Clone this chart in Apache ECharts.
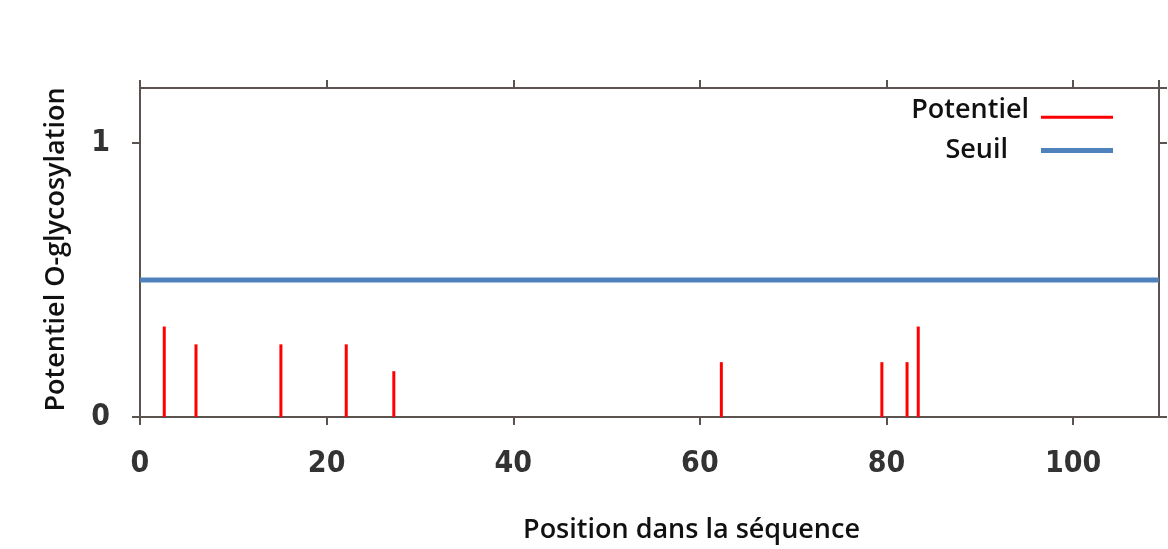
<!DOCTYPE html>
<html>
<head>
<meta charset="utf-8">
<script src="https://cdn.jsdelivr.net/npm/echarts@6/dist/echarts.min.js"></script>
<style>
html,body{margin:0;padding:0;background:#fff;}
#chart{width:1168px;height:549px;}
</style>
</head>
<body>
<div id="chart"></div>
<script>
// Data
const positions = [2.6, 6, 15.1, 22.1, 27.2, 62.3, 79.5, 82.2, 83.4];
const potentials = [0.33, 0.265, 0.265, 0.265, 0.167, 0.2, 0.2, 0.2, 0.33];
const thresholdValue = 0.5;
const xMin = 0, xMax = 109.2, xInterval = 20;
const yMin = 0, yMax = 1.2, yInterval = 1;
const seriesNames = ['Potentiel', 'Seuil'];
const xTitle = 'Position dans la séquence';
const yTitle = 'Potentiel O-glycosylation';

const potentialData = positions.map((p, i) => [p, potentials[i]]);
const thresholdData = [[xMin, thresholdValue], [xMax, thresholdValue]];

const axisColor = '#5a5350';
const labelFont = "'DejaVu Sans Condensed', 'DejaVu Sans', sans-serif";
const titleFont = "'Open Sans', 'Noto Sans', sans-serif";
// legend line drawn in the lower part of its box (tiny invisible sliver at top keeps the box height)
const lowLineIcon = 'path://M0,0L72,0L72,0.01L0,0.01Z M0,13.5L72,13.5L72,16.5L0,16.5Z';

const chart = echarts.init(document.getElementById('chart'), null, {renderer: 'canvas'});
chart.setOption({
  backgroundColor: '#ffffff',
  animation: false,
  grid: {left: 140, right: 9, top: 88, bottom: 131, containLabel: false},
  legend: [
    {
      data: [seriesNames[0]], right: 50, top: 92, orient: 'vertical', align: 'right',
      icon: lowLineIcon, itemWidth: 72, itemHeight: 16.5,
      textStyle: {fontFamily: titleFont, fontWeight: 600, fontSize: 27, color: '#111', padding: [0, 7, 0, 0]}
    },
    {
      data: [seriesNames[1]], right: 50, top: 132, orient: 'vertical', align: 'right',
      icon: 'rect', itemWidth: 72, itemHeight: 5,
      textStyle: {fontFamily: titleFont, fontWeight: 600, fontSize: 27, color: '#111', padding: [0, 28, 0, 0]}
    }
  ],
  xAxis: [
    {
      type: 'value', position: 'bottom', min: xMin, max: xMax, interval: xInterval,
      name: xTitle, nameLocation: 'middle', nameGap: 100,
      nameTextStyle: {fontFamily: titleFont, fontWeight: 600, fontSize: 27, color: '#111', padding: [0, 0, 0, 84]},
      axisLine: {show: true, onZero: false, lineStyle: {color: axisColor, width: 2}},
      axisTick: {show: true, length: 8, lineStyle: {color: axisColor, width: 2}},
      axisLabel: {show: true, margin: 32, showMaxLabel: false, fontFamily: labelFont, fontWeight: 'bold', fontSize: 30, color: '#333'},
      splitLine: {show: false}
    },
    {
      type: 'value', position: 'top', min: xMin, max: xMax, interval: xInterval,
      axisLine: {show: true, onZero: false, lineStyle: {color: axisColor, width: 2}},
      axisTick: {show: true, length: 8, lineStyle: {color: axisColor, width: 2}},
      axisLabel: {show: false},
      splitLine: {show: false}
    }
  ],
  yAxis: [
    {
      type: 'value', position: 'left', min: yMin, max: yMax, interval: yInterval,
      name: yTitle, nameLocation: 'middle', nameGap: 70, nameRotate: 90,
      nameTextStyle: {fontFamily: titleFont, fontWeight: 600, fontSize: 27, color: '#111', padding: [0, 0, 0, 6]},
      axisLine: {show: true, onZero: false, lineStyle: {color: axisColor, width: 2}},
      axisTick: {show: true, length: 8, lineStyle: {color: axisColor, width: 2}},
      axisLabel: {show: true, margin: 30, showMaxLabel: false, fontFamily: labelFont, fontWeight: 'bold', fontSize: 30, color: '#333'},
      splitLine: {show: false}
    },
    {
      type: 'value', position: 'right', min: yMin, max: yMax, interval: yInterval,
      axisLine: {show: true, onZero: false, lineStyle: {color: axisColor, width: 2}},
      axisTick: {show: true, length: 8, lineStyle: {color: axisColor, width: 2}},
      axisLabel: {show: false},
      splitLine: {show: false}
    }
  ],
  series: [
    {
      name: seriesNames[0], type: 'bar', xAxisIndex: 0, yAxisIndex: 0,
      data: potentialData, barWidth: 3, itemStyle: {color: '#ff0000'}, z: 3
    },
    {
      name: seriesNames[1], type: 'line', xAxisIndex: 0, yAxisIndex: 0,
      data: thresholdData, showSymbol: false, symbol: 'none',
      lineStyle: {color: '#4f81bd', width: 5}, itemStyle: {color: '#4f81bd'}, z: 2
    }
  ]
});
</script>
</body>
</html>
